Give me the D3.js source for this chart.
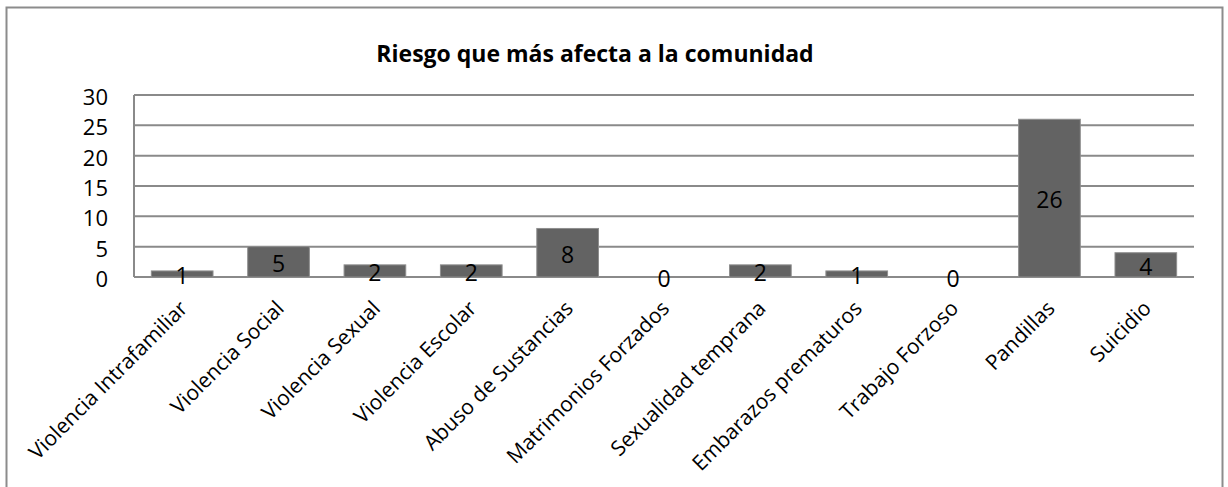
<!DOCTYPE html>
<html>
<head>
<meta charset="utf-8">
<script src="https://cdn.jsdelivr.net/npm/d3@7"></script>
<style>
  body { margin: 0; background: #fff; }
  svg { display: block; }
</style>
</head>
<body>
<figure style="margin:0"></figure>
<script>
const categories = [
  "Violencia Intrafamiliar",
  "Violencia Social",
  "Violencia Sexual",
  "Violencia Escolar",
  "Abuso de Sustancias",
  "Matrimonios Forzados",
  "Sexualidad temprana",
  "Embarazos prematuros",
  "Trabajo Forzoso",
  "Pandillas",
  "Suicidio",
];
const values = [1, 5, 2, 2, 8, 0, 2, 1, 0, 26, 4];
const yTicks = [0, 5, 10, 15, 20, 25, 30];
const title = "Riesgo que más afecta a la comunidad";

const width = 1228;
const height = 487;
const font = "'Open Sans', sans-serif";
const gridColor = "#8a8a8a";

const draw = () => {
  const svg = d3
    .select("figure")
    .append("svg")
    .attr("width", width)
    .attr("height", height);

  // chart frame (bottom edge falls outside the picture)
  svg
    .append("rect")
    .attr("x", 6.5)
    .attr("y", 7.5)
    .attr("width", 1216)
    .attr("height", 490)
    .attr("fill", "#fff")
    .attr("stroke", "#8c8c8c")
    .attr("stroke-width", 2);

  svg
    .append("text")
    .attr("x", 595)
    .attr("y", 53)
    .attr("text-anchor", "middle")
    .attr("dominant-baseline", "central")
    .attr("font-family", font)
    .attr("font-weight", "bold")
    .attr("font-size", 23)
    .text(title);

  const x = d3
    .scaleBand()
    .domain(categories)
    .range([134, 1194])
    .paddingInner(0.36)
    .paddingOuter(0.18);

  const y = d3.scaleLinear().domain([0, 30]).range([277, 95]);

  // gridlines
  svg
    .append("g")
    .selectAll("line")
    .data(yTicks)
    .join("line")
    .attr("x1", 134)
    .attr("x2", 1194)
    .attr("y1", (d) => y(d))
    .attr("y2", (d) => y(d))
    .attr("stroke", gridColor)
    .attr("stroke-width", 2);

  svg
    .append("line")
    .attr("x1", 134)
    .attr("x2", 134)
    .attr("y1", y(30))
    .attr("y2", y(0))
    .attr("stroke", gridColor)
    .attr("stroke-width", 2);

  // y tick labels
  svg
    .append("g")
    .selectAll("text")
    .data(yTicks)
    .join("text")
    .attr("x", 108)
    .attr("y", (d) => y(d) + 1)
    .attr("text-anchor", "end")
    .attr("dominant-baseline", "central")
    .attr("font-family", font)
    .attr("font-size", 22)
    .text((d) => d);

  // bars
  svg
    .append("g")
    .selectAll("rect")
    .data(values)
    .join("rect")
    .attr("x", (_, i) => x(categories[i]))
    .attr("width", x.bandwidth())
    .attr("y", (d) => y(d))
    .attr("height", (d) => y(0) - y(d))
    .attr("fill", "#636363")
    .attr("stroke", "#8e8e8e")
    .attr("stroke-width", (d) => (d > 0 ? 1 : 0));

  // value labels, centred in the bar
  svg
    .append("g")
    .selectAll("text")
    .data(values)
    .join("text")
    .attr("x", (_, i) => x(categories[i]) + x.bandwidth() / 2)
    .attr("y", (d) => (y(d) + y(0)) / 2 + 1)
    .attr("text-anchor", "middle")
    .attr("dominant-baseline", "central")
    .attr("font-family", font)
    .attr("font-size", 23)
    .text((d) => d);

  // rotated category labels
  svg
    .append("g")
    .selectAll("text")
    .data(categories)
    .join("text")
    .attr("transform", (d) => {
      const cx = x(d) + x.bandwidth() / 2 + 1;
      return `translate(${cx},${304}) rotate(-45)`;
    })
    .attr("text-anchor", "end")
    .attr("dominant-baseline", "central")
    .attr("font-family", font)
    .attr("font-size", 21)
    .text((d) => d);
};

window.onload = draw;
</script>
</body>
</html>
